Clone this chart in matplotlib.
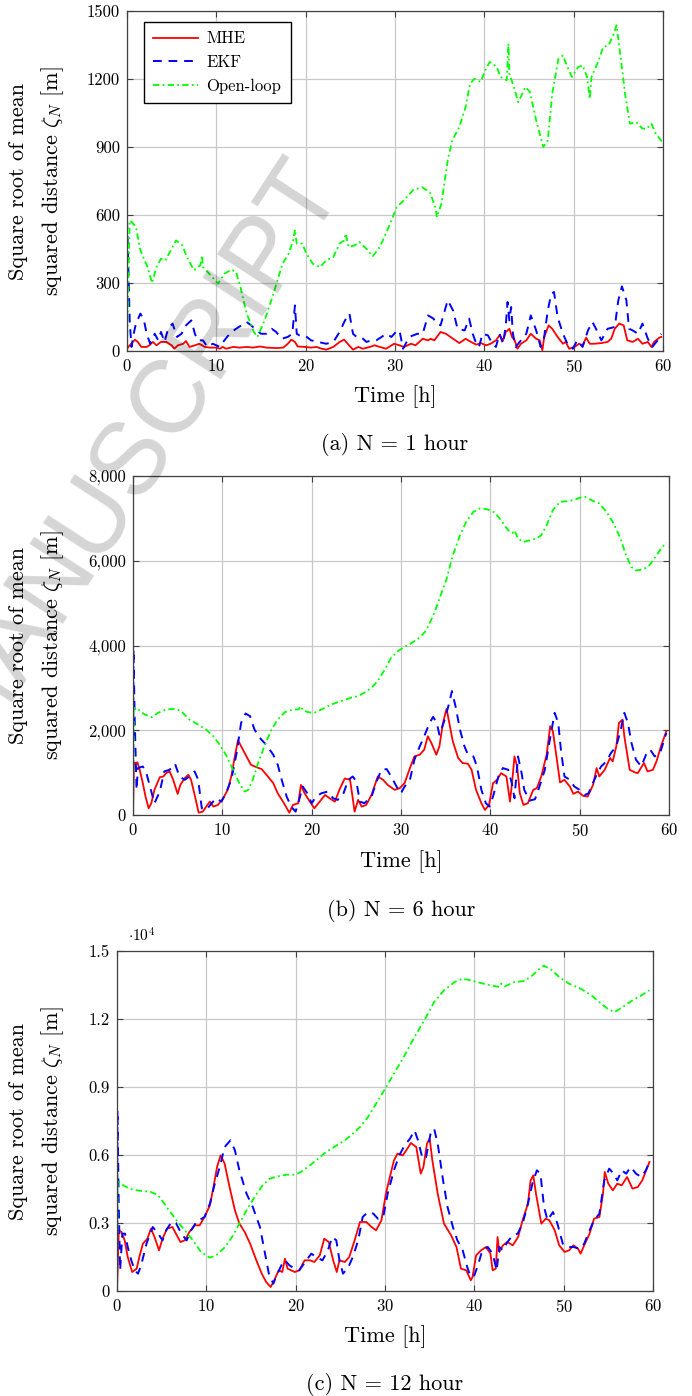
import numpy as np
import matplotlib
matplotlib.use('Agg')
import matplotlib.pyplot as plt

plt.rcParams['font.family'] = 'serif'
plt.rcParams['font.serif'] = ['cmr10']
plt.rcParams['mathtext.fontset'] = 'cm'
plt.rcParams['axes.formatter.use_mathtext'] = True

# ---- data: (time [h], sqrt mean squared distance [m]) ----
# N = 1 hour
mhe_1 = [(0, 10), (0.3, 25), (0.9, 50), (1.2, 40), (1.6, 18), (2.2, 18), (2.5, 25), (2.9, 40),
         (3.3, 25), (3.8, 40), (4.4, 40), (5.0, 25), (5.3, 10), (5.7, 25), (6.3, 32), (6.6, 44),
         (7.0, 18), (7.6, 25), (8.1, 32), (8.7, 18), (9.3, 15), (10.0, 15), (10.4, 10), (10.7, 18),
         (11.1, 10), (11.9, 18), (12.6, 15), (13.4, 18), (14.1, 15), (14.9, 20), (15.6, 15),
         (16.7, 13), (17.5, 15), (18.0, 32), (18.4, 50), (18.8, 40), (19.1, 20), (19.9, 18),
         (20.6, 15), (21.2, 18), (21.8, 10), (22.3, 6), (23.1, 18), (23.8, 40), (24.3, 50),
         (24.7, 32), (25.3, 6), (25.9, 18), (26.4, 10), (27.2, 18), (27.7, 25), (28.3, 18),
         (29.0, 10), (29.9, 32), (30.5, 25), (31.0, 18), (31.8, 32), (32.3, 25), (33.1, 54),
         (33.7, 47), (34.0, 54), (34.4, 47), (35.1, 84), (35.7, 76), (36.5, 54), (37.2, 35),
         (37.9, 54), (38.5, 40), (39.1, 28), (39.6, 35), (40.2, 25), (40.7, 32), (41.3, 47),
         (41.7, 69), (42.1, 47), (42.4, 84), (42.8, 98), (43.1, 62), (43.4, 47), (43.7, 10),
         (44.1, 32), (44.7, 47), (45.2, 76), (45.8, 54), (46.2, 47), (46.5, 3), (46.7, 62),
         (47.2, 113), (47.6, 98), (48.2, 62), (48.8, 32), (49.1, 40), (49.5, 10), (50.1, 18),
         (50.6, 32), (51.0, 25), (51.4, 59), (51.8, 32), (52.3, 32), (53.1, 35), (53.8, 40),
         (54.2, 54), (54.6, 98), (55.1, 121), (55.6, 113), (56.0, 47), (56.6, 40), (57.2, 54),
         (57.7, 32), (58.3, 40), (58.7, 18), (59.0, 40), (59.6, 59), (59.8, 62)]
ekf_1 = [(0, 576), (0.15, 370), (0.3, 135), (0.5, 18), (0.75, 76), (1.0, 121), (1.5, 165),
         (1.9, 135), (2.2, 76), (2.6, 32), (3.1, 76), (3.5, 47), (3.8, 84), (4.2, 40), (4.6, 98),
         (5.1, 121), (5.6, 62), (6.1, 76), (6.6, 113), (7.2, 135), (7.6, 76), (7.9, 47), (8.5, 47),
         (9.0, 18), (9.6, 32), (10.4, 18), (10.9, 47), (11.5, 76), (12.2, 98), (12.8, 113),
         (13.4, 128), (13.9, 113), (14.5, 91), (15.0, 76), (15.6, 76), (16.2, 98), (16.7, 84),
         (17.3, 54), (18.0, 62), (18.5, 76), (18.8, 201), (19.0, 76), (19.3, 69), (19.9, 69),
         (20.6, 47), (21.4, 40), (22.3, 32), (23.1, 40), (23.8, 84), (24.4, 135), (24.9, 165),
         (25.3, 76), (25.7, 62), (26.2, 62), (26.8, 40), (27.4, 47), (27.9, 47), (28.5, 62),
         (29.0, 76), (29.6, 62), (30.1, 84), (30.5, 91), (30.9, 10), (31.6, 62), (32.5, 76),
         (33.1, 76), (33.7, 157), (34.3, 143), (34.6, 124), (35.1, 113), (35.9, 224), (36.5, 179),
         (37.0, 98), (37.8, 91), (38.3, 143), (38.7, 76), (39.1, 32), (39.4, 18), (39.8, 76),
         (40.4, 69), (40.9, 32), (41.3, 18), (41.7, 76), (42.1, 32), (42.4, 113), (42.6, 216),
         (42.8, 135), (43.0, 194), (43.2, 76), (43.5, 18), (44.1, 47), (44.7, 76), (45.2, 157),
         (45.8, 91), (46.3, 18), (46.7, 62), (47.1, 179), (47.5, 253), (47.8, 260), (48.2, 150),
         (48.8, 76), (49.3, 32), (49.9, 10), (50.4, 47), (51.0, 18), (51.6, 91), (52.1, 128),
         (52.5, 98), (53.1, 47), (53.8, 98), (54.6, 106), (55.0, 224), (55.4, 285), (55.9, 224),
         (56.2, 98), (56.6, 91), (57.2, 76), (57.7, 121), (58.3, 54), (58.8, 18), (59.4, 47),
         (59.8, 76)]
ol_1 = [(0, 0), (0.3, 576), (0.5, 570), (1.0, 547), (1.5, 444), (2.3, 370), (2.8, 300), (3.3, 370),
        (3.8, 407), (4.3, 400), (4.8, 437), (5.5, 488), (6.2, 466), (6.7, 415), (7.5, 356),
        (8.2, 378), (8.4, 422), (8.5, 370), (9.2, 341), (10.2, 297), (10.9, 341), (11.7, 359),
        (12.2, 349), (12.7, 282), (13.4, 165), (14.2, 84), (14.6, 62), (15.4, 135), (16.4, 253),
        (17.4, 385), (18.1, 429), (18.6, 488), (18.8, 535), (19.0, 474), (19.6, 474), (20.1, 429),
        (20.8, 385), (21.6, 370), (22.3, 400), (23.1, 415), (23.8, 474), (24.3, 488), (24.5, 518),
        (24.8, 459), (25.5, 466), (26.0, 481), (26.8, 451), (27.5, 418), (28.3, 459), (29.3, 547),
        (30.2, 635), (31.0, 665), (32.0, 709), (33.0, 723), (33.9, 701), (34.5, 635), (34.7, 591),
        (35.2, 650), (35.9, 841), (36.4, 929), (37.2, 988), (37.9, 1076), (38.4, 1179),
        (38.9, 1201), (39.6, 1187), (40.1, 1238), (40.6, 1275), (41.4, 1253), (41.8, 1209),
        (42.5, 1194), (42.7, 1356), (42.8, 1223), (43.3, 1165), (43.8, 1098), (44.6, 1165),
        (45.1, 1143), (45.8, 1018), (46.6, 900), (47.1, 929), (47.6, 1135), (48.3, 1290),
        (48.8, 1304), (49.3, 1253), (49.8, 1209), (50.5, 1253), (51.0, 1260), (51.5, 1209),
        (51.8, 1113), (52.0, 1209), (52.8, 1282), (53.3, 1341), (53.9, 1348), (54.5, 1400),
        (54.8, 1437), (55.3, 1282), (55.8, 1121), (56.3, 1003), (57.0, 1010), (57.7, 981),
        (58.2, 981), (58.7, 1003), (59.2, 959), (59.9, 922)]

# N = 6 hour
mhe_6 = [(0, 0), (0.1, 1225), (0.5, 1241), (0.75, 1067), (1.1, 751), (1.4, 435), (1.75, 158),
         (2.05, 277), (2.4, 593), (3.0, 893), (3.4, 909), (3.7, 988), (4.1, 1028), (4.5, 830),
         (5.0, 498), (5.3, 711), (5.8, 870), (6.2, 949), (6.5, 830), (6.9, 474), (7.35, 55),
         (7.8, 79), (8.2, 198), (8.6, 316), (9.0, 198), (9.5, 237), (10.1, 395), (10.6, 593),
         (11.0, 909), (11.4, 1383), (11.75, 1763), (12.1, 1621), (12.7, 1383), (13.2, 1186),
         (13.8, 1130), (14.4, 1083), (15.1, 909), (15.7, 751), (16.2, 514), (16.9, 277),
         (17.5, 55), (17.9, 237), (18.5, 277), (18.8, 711), (19.2, 514), (19.8, 316), (20.3, 158),
         (20.9, 316), (21.5, 474), (22.0, 395), (22.6, 316), (23.1, 593), (23.7, 862), (24.3, 830),
         (24.6, 395), (24.8, 79), (25.2, 356), (25.6, 198), (26.1, 237), (26.7, 474), (27.4, 909),
         (28.0, 830), (28.5, 711), (29.3, 593), (29.85, 632), (30.4, 751), (31.0, 1107),
         (31.5, 1383), (32.1, 1423), (32.6, 1541), (33.0, 1858), (33.4, 1700), (33.95, 1423),
         (34.3, 1621), (34.7, 2174), (35.1, 2506), (35.4, 2174), (35.8, 1739), (36.4, 1344),
         (36.9, 1225), (37.5, 1209), (37.9, 1067), (38.4, 593), (39.0, 277), (39.4, 119),
         (39.85, 237), (40.3, 751), (40.75, 830), (41.2, 988), (41.8, 909), (42.2, 316),
         (42.5, 909), (42.7, 1383), (43.0, 1146), (43.3, 514), (43.7, 237), (44.2, 277),
         (44.8, 593), (45.2, 632), (45.7, 909), (46.3, 1423), (46.7, 2095), (47.0, 1976),
         (47.4, 1383), (47.8, 767), (48.3, 830), (48.9, 672), (49.3, 498), (49.8, 553), (50.4, 451),
         (50.9, 435), (51.5, 711), (51.9, 1107), (52.2, 909), (52.8, 1067), (53.4, 1344),
         (53.7, 1265), (54.1, 1621), (54.4, 2174), (54.8, 2253), (55.0, 1858), (55.6, 1067),
         (56.2, 1004), (56.5, 988), (57.2, 1225), (57.6, 1028), (58.2, 1067), (58.6, 1265),
         (59.1, 1621), (59.7, 1976)]
ekf_6 = [(0, 0), (0.05, 3913), (0.2, 2174), (0.4, 593), (0.55, 1107), (1.1, 1146), (1.5, 988),
         (2.0, 593), (2.4, 277), (3.0, 553), (3.5, 1028), (4.1, 1067), (4.7, 1209), (5.2, 909),
         (5.8, 830), (6.3, 909), (6.9, 1028), (7.3, 830), (7.7, 158), (8.2, 119), (8.8, 277),
         (9.3, 395), (9.9, 316), (10.4, 514), (11.0, 830), (11.6, 1462), (12.1, 2174), (12.6, 2395),
         (13.1, 2332), (13.6, 2016), (14.2, 1818), (14.9, 1660), (15.7, 1423), (16.2, 1186),
         (16.7, 790), (17.2, 435), (17.7, 198), (18.2, 79), (18.7, 435), (19.0, 672), (19.5, 514),
         (20.0, 277), (20.5, 435), (21.1, 514), (21.8, 553), (22.4, 395), (22.9, 356), (23.5, 474),
         (24.1, 830), (24.6, 909), (25.0, 790), (25.4, 316), (25.9, 277), (26.7, 435), (27.2, 751),
         (27.8, 1067), (28.4, 1083), (28.9, 909), (29.5, 672), (30.0, 514), (30.4, 672),
         (31.0, 830), (31.5, 1304), (32.1, 1621), (32.6, 1858), (33.2, 2174), (33.6, 2316),
         (34.0, 2174), (34.3, 1897), (34.9, 2253), (35.4, 2648), (35.7, 2925), (36.1, 2569),
         (36.6, 2016), (37.1, 1621), (37.5, 1423), (38.1, 1383), (38.5, 1146), (39.0, 593),
         (39.5, 277), (39.9, 198), (40.3, 435), (40.9, 909), (41.4, 1107), (42.0, 1067),
         (42.4, 751), (42.7, 395), (43.1, 1383), (43.5, 988), (43.8, 593), (44.4, 340), (45.0, 372),
         (45.5, 672), (46.1, 1067), (46.6, 1700), (47.2, 2411), (47.6, 2174), (47.9, 1541),
         (48.3, 909), (48.9, 830), (49.4, 672), (50.0, 593), (50.6, 474), (51.0, 514), (51.3, 672),
         (51.9, 949), (52.4, 1146), (53.0, 1265), (53.5, 1462), (54.1, 1621), (54.6, 2016),
         (55.0, 2411), (55.4, 2174), (55.8, 1700), (56.3, 1304), (56.9, 1146), (57.5, 1462),
         (57.9, 1541), (58.4, 1383), (59.0, 1462), (59.7, 1937)]
ol_6 = [(0, 0), (0.1, 2530), (0.6, 2490), (1.3, 2372), (2.1, 2308), (2.8, 2411), (3.7, 2490),
        (4.7, 2506), (5.4, 2451), (6.3, 2253), (7.3, 2134), (8.2, 2016), (9.0, 1858), (9.7, 1660),
        (10.4, 1423), (11.2, 1067), (11.9, 751), (12.5, 553), (12.9, 593), (13.4, 830),
        (14.0, 1225), (14.7, 1621), (15.5, 2016), (16.2, 2253), (17.0, 2427), (17.9, 2490),
        (18.5, 2490), (18.8, 2569), (19.0, 2474), (19.6, 2427), (20.3, 2411), (21.1, 2490),
        (22.2, 2609), (23.3, 2688), (24.4, 2767), (25.2, 2806), (25.9, 2885), (26.7, 3004),
        (27.4, 3162), (28.2, 3439), (28.9, 3715), (29.7, 3873), (30.4, 3968), (31.0, 4032),
        (32.1, 4190), (32.8, 4348), (33.6, 4704), (34.3, 5099), (35.1, 5573), (35.8, 6126),
        (36.6, 6601), (37.3, 6917), (38.1, 7154), (38.8, 7233), (39.6, 7217), (40.5, 7138),
        (41.2, 6956), (42.0, 6719), (42.5, 6656), (42.7, 6719), (43.1, 6522), (43.7, 6443),
        (44.4, 6482), (45.1, 6522), (45.7, 6601), (46.3, 6838), (47.0, 7194), (47.8, 7391),
        (48.7, 7407), (49.3, 7431), (50.0, 7486), (50.6, 7510), (51.3, 7431), (52.2, 7352),
        (53.0, 7154), (53.7, 6917), (54.5, 6561), (55.2, 6126), (55.8, 5850), (56.3, 5771),
        (57.1, 5794), (57.8, 5889), (58.6, 6126), (59.1, 6285), (59.7, 6430)]

# N = 12 hour
mhe_12 = [(0, 0), (0.2, 2676), (0.5, 2603), (0.86, 2235), (1.2, 1500), (1.7, 838), (2.2, 985),
          (2.5, 1500), (2.9, 2088), (3.4, 2309), (3.8, 2750), (4.2, 2382), (4.7, 1794), (5.1, 2309),
          (5.6, 2750), (6.2, 2824), (6.6, 2529), (7.1, 2162), (7.6, 2235), (8.1, 2603), (8.7, 2897),
          (9.25, 2897), (9.8, 3265), (10.4, 3779), (10.8, 4588), (11.2, 5471), (11.6, 5985),
          (12.05, 5618), (12.6, 4588), (13.2, 3559), (13.7, 2971), (14.3, 2603), (14.9, 2088),
          (15.6, 1353), (16.2, 765), (16.7, 397), (17.2, 176), (17.6, 471), (18.1, 912), (18.5, 838),
          (18.8, 1426), (19.1, 985), (19.9, 838), (20.4, 912), (21.0, 1353), (21.6, 1353),
          (22.1, 1279), (22.7, 1574), (23.2, 2309), (23.7, 2162), (24.2, 1353), (24.6, 838),
          (24.9, 1353), (25.5, 1279), (26.0, 1500), (26.6, 2235), (27.2, 3044), (27.9, 3044),
          (28.5, 2824), (29.0, 2676), (29.6, 3118), (30.1, 4294), (30.5, 4956), (31.0, 5765),
          (31.4, 6059), (32.0, 5985), (32.5, 6279), (32.9, 6529), (33.5, 6353), (34.0, 5176),
          (34.3, 5471), (34.7, 6500), (35.0, 6721), (35.3, 5765), (35.9, 4294), (36.6, 2971),
          (37.4, 2456), (38.0, 1941), (38.5, 985), (39.1, 912), (39.6, 471), (39.8, 618),
          (40.2, 1574), (40.75, 1794), (41.3, 1941), (41.8, 1647), (42.05, 912), (42.4, 985),
          (42.6, 2382), (42.8, 1721), (43.2, 2015), (43.7, 2162), (44.3, 2015), (44.9, 2382),
          (45.4, 3118), (46.0, 3853), (46.3, 4882), (46.6, 5103), (46.9, 4294), (47.5, 2971),
          (48.0, 3191), (48.4, 3118), (49.0, 2676), (49.5, 2015), (50.1, 1721), (50.6, 1794),
          (51.1, 2015), (51.6, 1868), (51.9, 1647), (52.3, 2015), (52.9, 2529), (53.4, 3191),
          (54.0, 3265), (54.4, 4294), (54.6, 5250), (55.0, 4735), (55.5, 4441), (56.0, 4735),
          (56.5, 4662), (57.1, 5029), (57.7, 4515), (58.3, 4588), (58.8, 4882), (59.6, 5691)]
ekf_12 = [(0, 0), (0.05, 7970), (0.2, 3706), (0.35, 912), (0.6, 2529), (0.9, 2529), (1.2, 1941),
          (1.6, 1353), (2.0, 900), (2.35, 765), (2.7, 1132), (3.3, 2088), (4.0, 2824), (4.6, 2529),
          (5.1, 2235), (5.5, 2676), (6.1, 3044), (6.6, 3000), (7.2, 2529), (7.8, 2235), (8.3, 2676),
          (9.0, 3118), (9.3, 3147), (9.8, 3265), (10.4, 3853), (10.9, 4662), (11.5, 5471),
          (12.05, 6353), (12.7, 6647), (13.2, 6206), (13.7, 5324), (14.5, 4294), (15.2, 3706),
          (16.0, 2824), (16.5, 1794), (17.0, 765), (17.5, 324), (17.8, 618), (18.4, 1132),
          (18.8, 1353), (19.3, 1132), (19.9, 985), (20.4, 912), (21.2, 1353), (21.75, 1647),
          (22.3, 1500), (23.0, 1353), (23.6, 1794), (24.1, 2382), (24.55, 2235), (24.9, 1353),
          (25.3, 765), (25.9, 1059), (26.4, 1500), (27.0, 2235), (27.5, 3265), (28.1, 3485),
          (28.7, 3412), (29.2, 3191), (29.8, 3265), (30.3, 4294), (30.5, 4588), (31.0, 5324),
          (31.6, 5985), (32.2, 6427), (32.8, 6721), (33.3, 7088), (33.7, 6647), (34.2, 5838),
          (34.6, 5912), (35.1, 6941), (35.5, 7162), (35.9, 6500), (36.5, 4882), (37.0, 3706),
          (37.6, 2824), (38.1, 2235), (38.7, 1794), (39.2, 1059), (39.6, 618), (40.0, 691),
          (40.4, 1132), (40.9, 1794), (41.5, 1941), (42.05, 1647), (42.5, 912), (42.8, 1941),
          (43.2, 1794), (43.7, 2162), (44.3, 2456), (44.85, 2529), (45.4, 2971), (46.0, 3853),
          (46.5, 4735), (47.0, 5324), (47.4, 5176), (47.8, 3706), (48.2, 3118), (48.8, 3485),
          (49.3, 2971), (49.9, 2088), (50.4, 1941), (51.1, 1941), (51.75, 1868), (52.3, 2088),
          (52.9, 2676), (53.4, 3118), (54.0, 3412), (54.55, 4882), (55.1, 5397), (55.6, 5176),
          (56.0, 4882), (56.5, 5324), (57.0, 5176), (57.5, 5471), (58.1, 5176), (58.7, 5029),
          (59.2, 5324), (59.6, 5691)]
ol_12 = [(0, 0), (0.07, 4882), (0.7, 4662), (1.4, 4515), (2.2, 4441), (2.9, 4412), (3.8, 4368),
         (4.6, 4221), (5.3, 3853), (6.1, 3412), (6.8, 3044), (7.6, 2676), (8.5, 2235), (9.4, 1721),
         (10.4, 1471), (11.1, 1574), (12.1, 1941), (13.0, 2456), (13.7, 2971), (14.5, 3559),
         (15.4, 4147), (16.3, 4662), (17.1, 4956), (18.0, 5059), (19.0, 5132), (19.9, 5132),
         (20.6, 5250), (21.6, 5544), (22.5, 5838), (23.4, 6132), (24.6, 6427), (25.5, 6647),
         (26.4, 6941), (27.2, 7235), (28.1, 7676), (29.0, 8265), (29.8, 8779), (31.0, 9588),
         (32.2, 10397), (33.3, 11206), (34.4, 11941), (35.5, 12750), (36.6, 13265), (37.8, 13632),
         (38.7, 13780), (39.6, 13706), (40.7, 13588), (41.9, 13485), (42.8, 13412), (43.0, 13559),
         (43.4, 13441), (44.5, 13632), (45.6, 13676), (46.5, 13926), (47.3, 14221), (47.8, 14353),
         (48.6, 14176), (49.5, 13853), (50.6, 13559), (51.9, 13338), (53.1, 13044), (54.2, 12676),
         (54.9, 12456), (55.7, 12309), (56.6, 12529), (57.7, 12824), (58.7, 13044), (59.6, 13265)]

series_names = ['MHE', 'EKF', 'Open-loop']
panel_series = [(mhe_1, ekf_1, ol_1), (mhe_6, ekf_6, ol_6), (mhe_12, ekf_12, ol_12)]
captions = ['(a) N = 1 hour', '(b) N = 6 hour', '(c) N = 12 hour']
x_ticks = [0, 10, 20, 30, 40, 50, 60]
y_ticks = [[0, 300, 600, 900, 1200, 1500],
           [0, 2000, 4000, 6000, 8000],
           [0, 3000, 6000, 9000, 12000, 15000]]
y_tick_labels = [['0', '300', '600', '900', '1200', '1500'],
                 ['0', '2,000', '4,000', '6,000', '8,000'],
                 ['0', '0.3', '0.6', '0.9', '1.2', '1.5']]
y_max = [1500, 8000, 15000]

# ---- layout (pixel positions of the axes boxes in a 692x1396 image) ----
W, H = 692, 1396
boxes = [(127, 11, 663, 351), (133, 476, 669, 815), (117, 951, 653, 1291)]
xlabel_y = [397, 862, 1337]
caption_y = [445, 910, 1385]
ylabel_x = 37

colors = ['#ff0000', '#0000ff', '#00ff00']
grid_c = '#c8c8c8'
edge_c = '#404040'

fig = plt.figure(figsize=(W / 100, H / 100), dpi=100)

for k in range(3):
    x0, y0, x1, y1 = boxes[k]
    ax = fig.add_axes([x0 / W, 1 - y1 / H, (x1 - x0) / W, (y1 - y0) / H])
    mhe, ekf, ol = [np.array(s) for s in panel_series[k]]
    ax.plot(mhe[:, 0], mhe[:, 1], color=colors[0], lw=1.3, label=series_names[0])
    ax.plot(ekf[:, 0], ekf[:, 1], color=colors[1], lw=1.4, dashes=(4.5, 3.5),
            label=series_names[1])
    ax.plot(ol[:, 0], ol[:, 1], color=colors[2], lw=1.3, dashes=(3.5, 1.8, 1.0, 1.8),
            label=series_names[2])

    ax.set_xlim(0, 60)
    ax.set_ylim(0, y_max[k])
    ax.set_xticks(x_ticks)
    ax.set_yticks(y_ticks[k], y_tick_labels[k])
    ax.grid(True, color=grid_c, lw=0.9)
    ax.set_axisbelow(True)
    ax.tick_params(direction='in', length=4, width=0.8, color=edge_c, top=True, right=True,
                   labelsize=12, pad=5)
    for sp in ax.spines.values():
        sp.set_color(edge_c)
        sp.set_linewidth(0.9)

    ax.set_xlabel('Time [h]', fontsize=16)
    ax.xaxis.set_label_coords(0.5, -(xlabel_y[k] - y1) / (y1 - y0))
    ax.xaxis.label.set_va('center')
    ax.set_ylabel('Square root of mean\nsquared distance $\\zeta_N$ [m]', fontsize=16,
                  linespacing=1.6)
    ax.yaxis.set_label_coords((ylabel_x - x0) / (x1 - x0), 0.5)
    ax.yaxis.label.set_va('center')

    fig.text((x0 + x1) / 2 / W, 1 - caption_y[k] / H, captions[k], fontsize=16,
             ha='center', va='center')

    if k == 0:
        ax.legend(loc='upper left', bbox_to_anchor=(17 / 536, 1 - 11 / 340), borderaxespad=0,
                  fancybox=False, edgecolor='black', framealpha=1, fontsize=12,
                  handlelength=2.7, handletextpad=0.5, labelspacing=0.5, borderpad=0.55)
    if k == 2:
        ax.text(0.02, 1.045, '$\\cdot 10^4$', transform=ax.transAxes, fontsize=11,
                ha='left', va='center')

# watermark of the source page
fig.text(345 / W, 1 - 190 / H, 'ACCEPTED MANUSCRIPT', rotation=57, rotation_mode='anchor',
         ha='right', va='baseline', fontsize=74, color='black', alpha=0.17,
         family='Liberation Sans')

fig.savefig('out.png', dpi=100)
